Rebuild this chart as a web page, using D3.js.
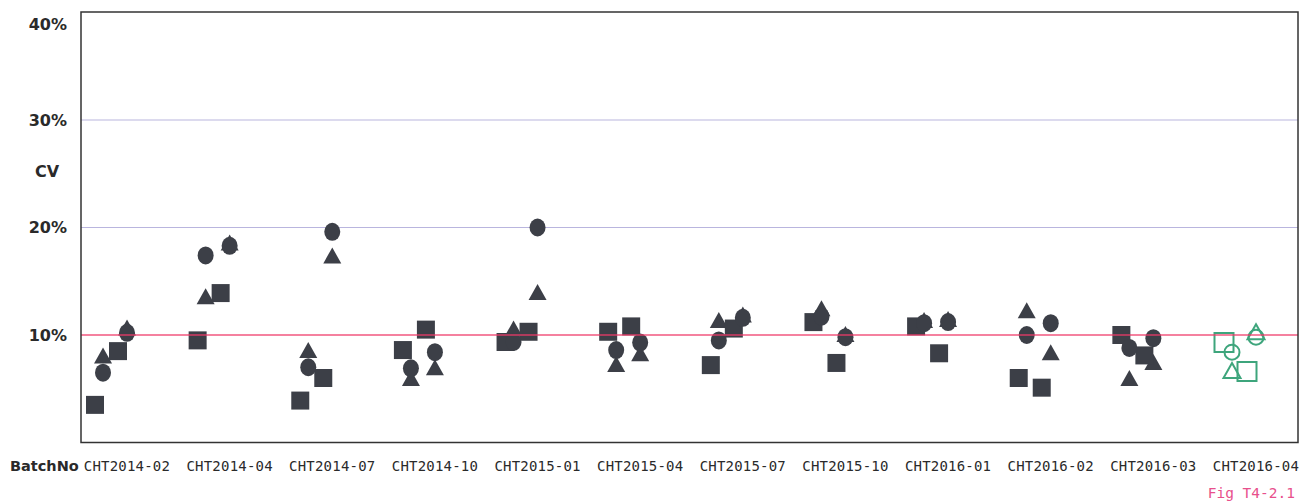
<!DOCTYPE html>
<html>
<head>
<meta charset="utf-8">
<script src="https://cdnjs.cloudflare.com/ajax/libs/d3/7.8.5/d3.min.js"></script>
<style>
    body { margin: 0; background: white; }
    svg { display: block; }
</style>
</head>
<body>
<div id="chart"></div>
<script>
// batches on the x axis
var batches = ['CHT2014-02', 'CHT2014-04', 'CHT2014-07', 'CHT2014-10', 'CHT2015-01', 'CHT2015-04',
    'CHT2015-07', 'CHT2015-10', 'CHT2016-01', 'CHT2016-02', 'CHT2016-03', 'CHT2016-04'];

// CV values (%), two points per shape for every batch
var squareA = [3.5, 9.5, 3.9, 8.6, 9.35, 10.3, 7.2, 11.2, 10.8, 6.0, 10.0, 9.3];
var circleA = [6.5, 17.4, 7.0, 6.9, 9.35, 8.6, 9.5, 11.7, 11.1, 10.0, 8.8, 8.4];
var triangleA = [8.1, 13.6, 8.6, 6.0, 10.6, 7.3, 11.4, 12.5, 11.4, 12.3, 6.0, 6.7];
var squareB = [8.5, 13.9, 6.0, 10.5, 10.3, 10.8, 10.6, 7.4, 8.3, 5.1, 8.1, 6.6];
var circleB = [10.2, 18.3, 19.6, 8.4, 20.0, 9.3, 11.6, 9.8, 11.2, 11.1, 9.7, 9.8];
var triangleB = [10.7, 18.6, 17.4, 7.0, 14.0, 8.3, 11.9, 10.1, 11.5, 8.4, 7.5, 10.3];

var yTicks = [10, 20, 30, 40];
var limit = 10;
var current = 'CHT2016-04';

var width = 1301;
var height = 502;
var plotLeft = 81;
var plotRight = 1298;
var plotTop = 12.5;
var plotBottom = 442.5;

var svg = d3.select('#chart').append('svg')
    .attr('width', width)
    .attr('height', height);

var xScale = d3.scalePoint()
    .domain(batches)
    .range([127, 1256]);

var yScale = d3.scaleLinear()
    .domain([0, 40])
    .range([plotBottom, plotTop]);

// grid lines
svg.append('g')
    .selectAll('line')
    .data([20, 30])
    .enter()
    .append('line')
    .attr('x1', plotLeft)
    .attr('x2', plotRight)
    .attr('y1', d => yScale(d))
    .attr('y2', d => yScale(d))
    .attr('stroke', '#b9b5de')
    .attr('stroke-width', 1.2);

// y tick labels
svg.append('g')
    .selectAll('text')
    .data(yTicks)
    .enter()
    .append('text')
    .text(d => d + '%')
    .attr('x', 67)
    .attr('y', d => yScale(d) + (d === 40 ? 12 : 0))
    .attr('dy', '0.36em')
    .attr('text-anchor', 'end')
    .attr('font-family', 'DejaVu Sans')
    .attr('font-weight', 'bold')
    .attr('font-size', 16)
    .attr('fill', '#2a2a2a');

svg.append('text')
    .text('CV')
    .attr('x', 47)
    .attr('y', yScale(25.2))
    .attr('dy', '0.36em')
    .attr('text-anchor', 'middle')
    .attr('font-family', 'DejaVu Sans')
    .attr('font-weight', 'bold')
    .attr('font-size', 16)
    .attr('fill', '#2a2a2a');

// x labels
svg.append('text')
    .text('BatchNo')
    .attr('x', 10)
    .attr('y', 471)
    .attr('font-family', 'DejaVu Sans')
    .attr('font-weight', 'bold')
    .attr('font-size', 14.5)
    .attr('fill', '#2a2a2a');

svg.append('g')
    .selectAll('text')
    .data(batches)
    .enter()
    .append('text')
    .text(d => d)
    .attr('x', d => xScale(d))
    .attr('y', 471)
    .attr('text-anchor', 'middle')
    .attr('font-family', 'DejaVu Sans Mono')
    .attr('font-size', 14)
    .attr('letter-spacing', 0.2)
    .attr('fill', '#2a2a2a');

svg.append('text')
    .text('Fig T4-2.1')
    .attr('x', 1295)
    .attr('y', 498)
    .attr('text-anchor', 'end')
    .attr('font-family', 'DejaVu Sans Mono')
    .attr('font-size', 14.5)
    .attr('fill', '#e8508c');

// markers
var points = [];
batches.forEach((b, i) => {
    points.push({ batch: b, shape: 'triangle', off: -24, v: triangleA[i] });
    points.push({ batch: b, shape: 'triangle', off: 0, v: triangleB[i] });
    points.push({ batch: b, shape: 'square', off: -32, v: squareA[i] });
    points.push({ batch: b, shape: 'square', off: -9, v: squareB[i] });
    points.push({ batch: b, shape: 'circle', off: -24, v: circleA[i] });
    points.push({ batch: b, shape: 'circle', off: 0, v: circleB[i] });
});

function shapePath(shape, open) {
    var s = open ? 19 : 18;
    if (shape === 'square') {
        var h = s / 2;
        return `M${-h},${-h}H${h}V${h}H${-h}Z`;
    }
    if (shape === 'triangle') {
        var w = open ? 17 : 18;
        var th = open ? 15 : 16;
        return `M0,${-th / 2}L${w / 2},${th / 2}L${-w / 2},${th / 2}Z`;
    }
    var rx = open ? 7.5 : 8;
    var ry = open ? 7.5 : 9;
    return `M${-rx},0A${rx},${ry} 0 1,0 ${rx},0A${rx},${ry} 0 1,0 ${-rx},0Z`;
}

svg.append('g')
    .selectAll('path')
    .data(points)
    .enter()
    .append('path')
    .attr('d', d => shapePath(d.shape, d.batch === current))
    .attr('transform', d => `translate(${xScale(d.batch) + d.off},${yScale(d.v)})`)
    .attr('fill', d => d.batch === current ? 'none' : '#3c3f47')
    .attr('stroke', d => d.batch === current ? '#3ea57c' : 'none')
    .attr('stroke-width', 2);

// limit line, drawn over the markers
svg.append('line')
    .attr('x1', plotLeft)
    .attr('x2', plotRight)
    .attr('y1', yScale(limit))
    .attr('y2', yScale(limit))
    .attr('stroke', '#ee3a68')
    .attr('stroke-opacity', 0.85)
    .attr('stroke-width', 1.6);

// frame
svg.append('rect')
    .attr('x', plotLeft)
    .attr('y', plotTop - 0.5)
    .attr('width', plotRight - plotLeft)
    .attr('height', plotBottom - plotTop + 0.5)
    .attr('fill', 'none')
    .attr('stroke', '#333')
    .attr('stroke-width', 1.5);
</script>
</body>
</html>
